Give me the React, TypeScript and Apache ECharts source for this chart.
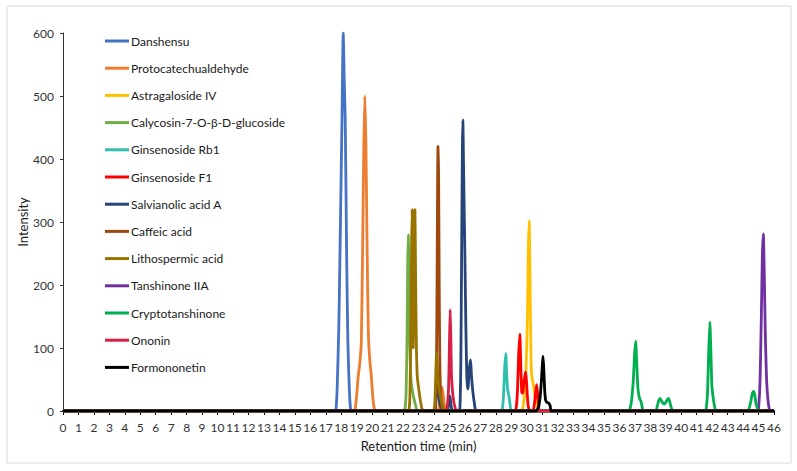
import React, { useEffect, useRef } from "react";
import * as echarts from "echarts";

// Retention time (min) / intensity pairs for each compound trace.
const danshensu: number[][] = [
  [0, 0], [17.6, 0], [17.66, 2], [17.74, 38], [17.85, 140], [17.92, 250], [18.0, 380], [18.05, 462],
  [18.13, 600], [18.2, 520], [18.26, 462], [18.35, 250], [18.43, 110], [18.52, 38], [18.6, 4], [18.7, 0], [46, 0],
];
const protocatechualdehyde: number[][] = [
  [0, 0], [18.8, 0], [18.9, 3], [19.0, 25], [19.1, 55], [19.2, 75], [19.3, 110], [19.38, 250], [19.46, 420],
  [19.53, 500], [19.6, 420], [19.68, 250], [19.76, 120], [19.85, 80], [19.95, 55], [20.05, 20], [20.15, 3],
  [20.25, 0], [24.25, 0], [24.35, 12], [24.45, 32], [24.52, 38], [24.6, 25], [24.68, 8], [24.78, 0], [46, 0],
];
const astragalosideIV: number[][] = [
  [0, 0], [29.65, 0], [29.75, 5], [29.85, 25], [29.95, 60], [30.05, 150], [30.1, 250], [30.16, 302],
  [30.22, 200], [30.28, 80], [30.33, 55], [30.4, 45], [30.5, 30], [30.6, 15], [30.7, 5], [30.8, 0], [46, 0],
];
const calycosinGlucoside: number[][] = [
  [0, 0], [22.0, 0], [22.12, 3], [22.2, 30], [22.26, 120], [22.3, 230], [22.34, 280], [22.38, 220],
  [22.43, 120], [22.5, 55], [22.58, 35], [22.7, 20], [22.82, 8], [22.95, 0], [46, 0],
];
const ginsenosideRb1: number[][] = [
  [0, 0], [28.3, 0], [28.42, 3], [28.5, 25], [28.58, 70], [28.65, 91], [28.7, 60], [28.76, 35],
  [28.84, 25], [28.93, 10], [29.02, 0], [46, 0],
];
const ginsenosideF1: number[][] = [
  [0, 0], [29.25, 0], [29.32, 5], [29.4, 30], [29.48, 90], [29.56, 122], [29.62, 70], [29.68, 30],
  [29.74, 28], [29.82, 45], [29.92, 62], [29.98, 50], [30.04, 25], [30.1, 8], [30.2, 0], [30.4, 0],
  [30.48, 8], [30.56, 25], [30.64, 42], [30.7, 30], [30.77, 10], [30.85, 0], [46, 0],
];
const salvianolicAcidA: number[][] = [
  [0, 0], [24.05, 0], [24.13, 20], [24.2, 55], [24.28, 30], [24.38, 12], [24.48, 4], [24.58, 0],
  [24.88, 0], [24.96, 14], [25.03, 24], [25.1, 10], [25.2, 0], [25.6, 0], [25.68, 5], [25.74, 80],
  [25.79, 250], [25.84, 420], [25.87, 462], [25.92, 380], [26.0, 250], [26.06, 140], [26.12, 60],
  [26.17, 35], [26.22, 40], [26.3, 70], [26.37, 81], [26.43, 55], [26.52, 30], [26.62, 12], [26.75, 0], [46, 0],
];
const caffeicAcid: number[][] = [
  [0, 0], [24.0, 0], [24.1, 5], [24.16, 60], [24.21, 250], [24.26, 420], [24.3, 380], [24.34, 200],
  [24.38, 80], [24.43, 30], [24.5, 10], [24.6, 0], [46, 0],
];
const lithospermicAcid: number[][] = [
  [0, 0], [22.3, 0], [22.4, 5], [22.45, 30], [22.5, 120], [22.55, 260], [22.59, 320], [22.63, 200],
  [22.66, 100], [22.7, 200], [22.74, 300], [22.77, 320], [22.81, 220], [22.86, 110], [22.92, 55],
  [23.0, 38], [23.1, 20], [23.2, 6], [23.3, 0], [23.95, 0], [24.05, 10], [24.12, 60], [24.17, 94],
  [24.22, 70], [24.3, 40], [24.4, 25], [24.5, 15], [24.6, 5], [24.7, 0], [46, 0],
];
const tanshinoneIIA: number[][] = [
  [0, 0], [44.95, 0], [45.02, 10], [45.1, 50], [45.18, 150], [45.25, 250], [45.31, 281], [45.37, 220],
  [45.44, 120], [45.52, 50], [45.6, 20], [45.68, 5], [45.75, 0], [46, 0],
];
const cryptotanshinone: number[][] = [
  [0, 0], [36.6, 0], [36.7, 5], [36.8, 20], [36.9, 50], [36.98, 90], [37.05, 111], [37.12, 75],
  [37.2, 35], [37.3, 20], [37.4, 15], [37.48, 5], [37.55, 0], [38.35, 0], [38.45, 8], [38.55, 17],
  [38.62, 20], [38.7, 17], [38.82, 12], [38.9, 11], [38.98, 13], [39.1, 18], [39.18, 20], [39.26, 14],
  [39.36, 5], [39.46, 0], [41.55, 0], [41.62, 5], [41.7, 30], [41.77, 90], [41.85, 141], [41.91, 100],
  [41.98, 40], [42.05, 24], [42.12, 12], [42.2, 3], [42.26, 0], [44.3, 0], [44.4, 5], [44.5, 15],
  [44.6, 28], [44.68, 31], [44.76, 25], [44.85, 10], [44.95, 3], [45.05, 0], [46, 0],
];
const ononin: number[][] = [
  [0, 0], [24.75, 0], [24.85, 5], [24.95, 40], [25.01, 120], [25.05, 161], [25.09, 120], [25.13, 60],
  [25.18, 38], [25.25, 20], [25.35, 7], [25.47, 0], [46, 0],
];
const formononetin: number[][] = [
  [0, 0], [30.6, 0], [30.7, 3], [30.8, 10], [30.9, 30], [30.98, 60], [31.05, 87], [31.1, 70],
  [31.16, 35], [31.22, 18], [31.3, 14], [31.45, 12], [31.52, 8], [31.6, 0], [46, 0],
];

const compoundNames = [
  "Danshensu",
  "Protocatechualdehyde",
  "Astragaloside IV",
  "Calycosin-7-O-β-D-glucoside",
  "Ginsenoside Rb1",
  "Ginsenoside F1",
  "Salvianolic acid A",
  "Caffeic acid",
  "Lithospermic acid",
  "Tanshinone IIA",
  "Cryptotanshinone",
  "Ononin",
  "Formononetin",
];
const compoundTraces = [
  danshensu, protocatechualdehyde, astragalosideIV, calycosinGlucoside, ginsenosideRb1, ginsenosideF1,
  salvianolicAcidA, caffeicAcid, lithospermicAcid, tanshinoneIIA, cryptotanshinone, ononin, formononetin,
];
const compoundColors = [
  "#4472C4", "#ED7D31", "#FFC000", "#70AD47", "#2FBFAD", "#FF0000",
  "#264478", "#9E480E", "#997300", "#7030A0", "#00B050", "#D42145", "#000000",
];

const FONT = "Lato";

export default function App() {
  const ref = useRef<HTMLDivElement>(null);

  useEffect(() => {
    if (!ref.current) return;
    const chart = echarts.init(ref.current, undefined, { renderer: "svg" });

    const series = compoundNames.map((name, i) => ({
      name,
      type: "line" as const,
      data: compoundTraces[i],
      showSymbol: false,
      symbol: "none",
      smooth: 0.2,
      lineStyle: { width: 2.8, color: compoundColors[i] },
      itemStyle: { color: compoundColors[i] },
    }));

    chart.setOption({
      animation: false,
      backgroundColor: "#ffffff",
      graphic: [
        {
          type: "rect",
          shape: { x: 7, y: 6, width: 784, height: 457 },
          style: { fill: "none", stroke: "#D9D9D9", lineWidth: 1 },
          silent: true,
        },
      ],
      grid: { left: 63, right: 23, top: 33, bottom: 60, containLabel: false },
      legend: {
        orient: "vertical",
        left: 105,
        top: 34,
        padding: 0,
        icon: "rect",
        itemWidth: 24,
        itemHeight: 3,
        itemGap: 13.2,
        textStyle: {
          fontFamily: FONT,
          fontSize: 12,
          color: "#1a1a1a",
          lineHeight: 14,
          padding: [0, 0, 0, -3],
        },
        data: compoundNames,
      },
      xAxis: {
        type: "value",
        min: 0,
        max: 46,
        interval: 1,
        name: "Retention time (min)",
        nameLocation: "middle",
        nameGap: 28,
        nameMoveOverlap: false,
        nameTextStyle: { fontFamily: FONT, fontSize: 13, color: "#1a1a1a" },
        axisLine: { show: true, onZero: false, lineStyle: { color: "#000000", width: 2 } },
        axisTick: { show: true, length: 4, lineStyle: { color: "#000000", width: 1 } },
        axisLabel: { fontFamily: FONT, fontSize: 12, color: "#333333", margin: 10 },
        splitLine: { show: false },
      },
      yAxis: {
        type: "value",
        min: 0,
        max: 600,
        interval: 100,
        name: "Intensity",
        nameLocation: "middle",
        nameGap: 34,
        nameMoveOverlap: false,
        nameTextStyle: { fontFamily: FONT, fontSize: 13, color: "#1a1a1a" },
        axisLine: { show: true, lineStyle: { color: "#333333", width: 1 } },
        axisTick: { show: true, length: 3, lineStyle: { color: "#333333" } },
        axisLabel: { fontFamily: FONT, fontSize: 12, color: "#333333", margin: 9 },
        splitLine: { show: false },
      },
      series,
    });

    return () => chart.dispose();
  }, []);

  return (
    <div
      ref={ref}
      style={{ position: "fixed", left: 0, top: 0, width: 797, height: 471, background: "#fff" }}
    />
  );
}
